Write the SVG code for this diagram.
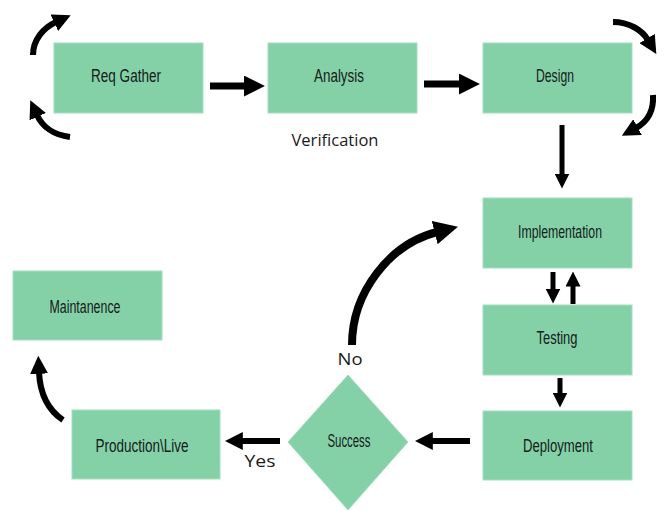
<svg xmlns="http://www.w3.org/2000/svg" width="669" height="511" viewBox="0 0 669 511">
<style>
.box{fill:#84d1a8;stroke:#a3ddbf;stroke-width:1}
.lbl{font-family:"Liberation Sans",Arial,sans-serif;font-size:17.5px;fill:#14201a;text-anchor:middle}
.txt{font-family:"Open Sans","Liberation Sans",sans-serif;fill:#1a1a1a;text-anchor:middle}
.ar{fill:none;stroke:#000;stroke-linecap:butt}
</style>
<defs>
<marker id="h" viewBox="0 0 10 10" refX="1" refY="5" markerWidth="3" markerHeight="3" orient="auto">
<path d="M0,0 L10,5 L0,10 z" fill="#000"/>
</marker>
</defs>
<rect width="669" height="511" fill="#fff"/>
<g id="req-gather"><rect class="box" x="54" y="43" width="149" height="70"/><text class="lbl" x="126" y="82" textLength="70" lengthAdjust="spacingAndGlyphs">Req Gather</text></g>
<g id="analysis"><rect class="box" x="268" y="43" width="149" height="70"/><text class="lbl" x="339" y="82" textLength="50" lengthAdjust="spacingAndGlyphs">Analysis</text></g>
<g id="design"><rect class="box" x="483" y="43" width="149" height="70"/><text class="lbl" x="555" y="82" textLength="38" lengthAdjust="spacingAndGlyphs">Design</text></g>
<g id="implementation"><rect class="box" x="483" y="198" width="149" height="70"/><text class="lbl" x="560" y="238" textLength="84" lengthAdjust="spacingAndGlyphs">Implementation</text></g>
<g id="testing"><rect class="box" x="483" y="305" width="149" height="70"/><text class="lbl" x="557" y="344" textLength="41" lengthAdjust="spacingAndGlyphs">Testing</text></g>
<g id="deployment"><rect class="box" x="483" y="411" width="149" height="69"/><text class="lbl" x="558" y="452" textLength="70" lengthAdjust="spacingAndGlyphs">Deployment</text></g>
<g id="success"><polygon class="box" points="348,375 408,442 348,510 288,442"/><text class="lbl" x="349" y="447" textLength="43" lengthAdjust="spacingAndGlyphs">Success</text></g>
<g id="maintanence"><rect class="box" x="13" y="271" width="149" height="69"/><text class="lbl" x="85" y="313" textLength="71" lengthAdjust="spacingAndGlyphs">Maintanence</text></g>
<g id="production-live"><rect class="box" x="72" y="410" width="148" height="69"/><text class="lbl" x="142" y="452" textLength="93" lengthAdjust="spacingAndGlyphs">Production\Live</text></g>
<g id="connectors">
<line class="ar" x1="210" y1="86" x2="246" y2="86" stroke-width="7" marker-end="url(#h)"/>
<line class="ar" x1="424" y1="84" x2="461" y2="84" stroke-width="7" marker-end="url(#h)"/>
<line class="ar" x1="562" y1="125" x2="562" y2="175" stroke-width="5" marker-end="url(#h)"/>
<line class="ar" x1="553" y1="272" x2="553" y2="290" stroke-width="5" marker-end="url(#h)"/>
<line class="ar" x1="573" y1="304" x2="573" y2="285" stroke-width="5" marker-end="url(#h)"/>
<line class="ar" x1="560" y1="378" x2="560" y2="394" stroke-width="5" marker-end="url(#h)"/>
<line class="ar" x1="470" y1="441" x2="431" y2="441" stroke-width="6" marker-end="url(#h)"/>
<line class="ar" x1="280" y1="441" x2="241" y2="441" stroke-width="6" marker-end="url(#h)"/>
<path class="ar" d="M352,345 C352,292 390,244 437,232" stroke-width="8" marker-end="url(#h)"/>
<path class="ar" d="M63,420 C48,410 40,394 39,372" stroke-width="6" marker-end="url(#h)"/>
<path class="ar" d="M33,55 C33,40 43,28 56,22" stroke-width="6" marker-end="url(#h)"/>
<path class="ar" d="M70,137 C53,135 42,126 37,115" stroke-width="6" marker-end="url(#h)"/>
<path class="ar" d="M613,22 C629,22 642,30 648,40" stroke-width="6" marker-end="url(#h)"/>
<path class="ar" d="M653,95 C654,112 647,122 636,128" stroke-width="6" marker-end="url(#h)"/>
</g>
<text class="txt" x="335" y="146" font-size="17" textLength="87" lengthAdjust="spacingAndGlyphs">Verification</text>
<text class="txt" x="350" y="365" font-size="16" textLength="25" lengthAdjust="spacingAndGlyphs">No</text>
<text class="txt" x="260" y="467" font-size="17" textLength="31" lengthAdjust="spacingAndGlyphs">Yes</text>
</svg>
